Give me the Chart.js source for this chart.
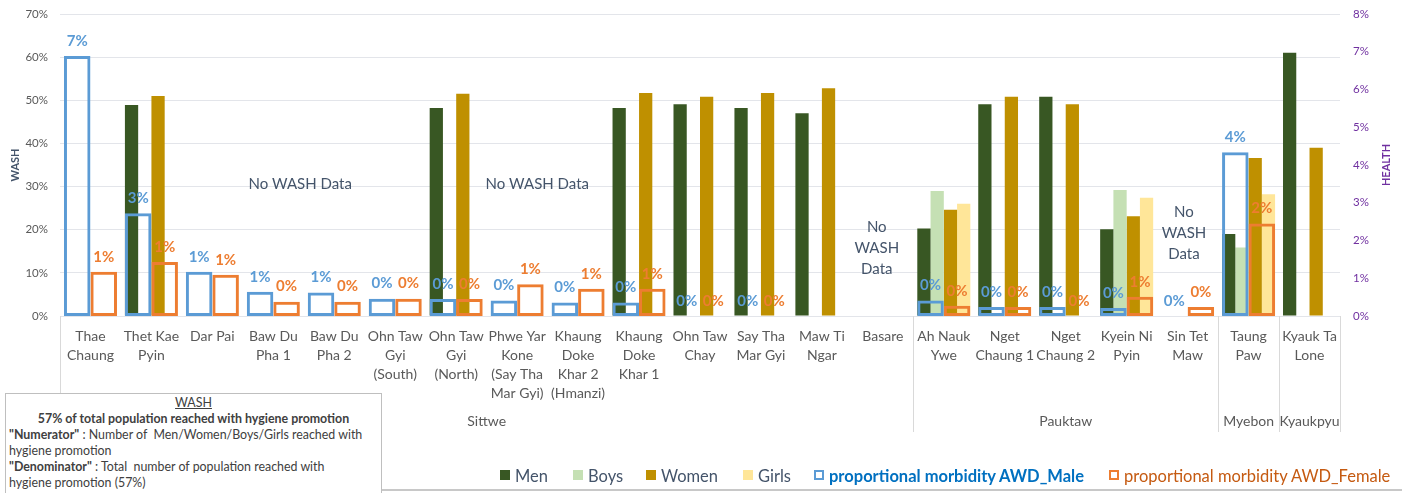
<!DOCTYPE html>
<html><head><meta charset="utf-8">
<script src="https://cdn.jsdelivr.net/npm/chart.js@4.4.0/dist/chart.umd.min.js"></script>
<style>
html,body{margin:0;padding:0;background:#fff;}
#wrap{position:relative;width:1402px;height:493px;overflow:hidden;font-family:Lato,'Open Sans',sans-serif;}
.cw{position:absolute;left:0;top:0;width:1402px;height:493px;}
#note{position:absolute;left:5px;top:393px;width:377px;height:104px;border:1px solid #BFBFBF;background:#fff;color:#404040;font-size:12.4px;line-height:16px;box-sizing:border-box;padding:1px 3px;white-space:nowrap;}
#note .c{text-align:center;}
#note .u{text-decoration:underline;}
#bline{position:absolute;left:382px;top:489px;width:1020px;height:2px;background:#C8C8C8;}
.lg{position:absolute;top:466px;font-size:16.5px;line-height:20px;white-space:nowrap;color:#44546A;}
.lg span.sw{position:absolute;top:4px;left:0;width:10px;height:10px;box-sizing:border-box;}
</style></head>
<body>
<div id="wrap">
  <div class="cw"><canvas id="cWash"></canvas></div>
  <div class="cw"><canvas id="cHealth"></canvas></div>
  <div id="note">
    <div class="c u">WASH</div>
    <div class="c"><b>57% of total population reached with hygiene promotion</b></div>
    <div><b>"Numerator"</b> : Number of&nbsp; Men/Women/Boys/Girls reached with<br>hygiene promotion</div>
    <div><b>"Denominator"</b> : Total&nbsp; number of population reached with<br>hygiene promotion (57%)</div>
  </div>
  <div id="bline"></div>
</div>
<script>
// ---------- data ----------
const categories = [
  ['Thae','Chaung'], ['Thet Kae','Pyin'], ['Dar Pai'], ['Baw Du','Pha 1'], ['Baw Du','Pha 2'],
  ['Ohn Taw','Gyi','(South)'], ['Ohn Taw','Gyi','(North)'], ['Phwe Yar','Kone','(Say Tha','Mar Gyi)'],
  ['Khaung','Doke','Khar 2','(Hmanzi)'], ['Khaung','Doke','Khar 1'], ['Ohn Taw','Chay'], ['Say Tha','Mar Gyi'],
  ['Maw Ti','Ngar'], ['Basare'], ['Ah Nauk','Ywe'], ['Nget','Chaung 1'], ['Nget','Chaung 2'],
  ['Kyein Ni','Pyin'], ['Sin Tet','Maw'], ['Taung','Paw'], ['Kyauk Ta','Lone']
];
const groups = [
  {name:'Sittwe', from:0, to:13},
  {name:'Pauktaw', from:14, to:18},
  {name:'Myebon', from:19, to:19},
  {name:'Kyaukpyu', from:20, to:20}
];
const men   = [null,48.9,null,null,null,null,48.2,null,null,48.2,49.1,48.2,47.0,null,20.3,49.1,50.8,20.1,null,19.0,61.0];
const boys  = [null,null,null,null,null,null,null,null,null,null,null,null,null,null,29.0,null,null,29.2,null,15.9,null];
const women = [null,51.0,null,null,null,null,51.5,null,null,51.7,50.8,51.7,52.8,null,24.6,50.8,49.1,23.1,null,36.6,39.0];
const girls = [null,null,null,null,null,null,null,null,null,null,null,null,null,null,26.0,null,null,27.4,null,28.2,null];
const awdMale   = [6.89,2.72,1.17,0.64,0.62,0.46,0.45,0.41,0.36,0.36,0,0,null,null,0.41,0.24,0.24,0.21,0,4.34,null];
const awdFemale = [1.17,1.43,1.09,0.38,0.38,0.46,0.45,0.84,0.72,0.72,0,0,null,null,0.27,0.24,0,0.51,0.24,2.45,null];
const washTicks = [0,10,20,30,40,50,60,70];
const healthTicks = [0,1,2,3,4,5,6,7,8];
const noDataNotes = [
  {at:3.44, value:30.6, lines:['No WASH Data']},
  {at:7.33, value:30.6, lines:['No WASH Data']},
  {at:12.9, value:15.8, lines:['No','WASH','Data']},
  {at:17.94, value:19.2, lines:['No','WASH','Data']}
];

// ---------- layout & styles ----------
const C = {men:'#385723', boys:'#C5E0B4', women:'#BF9000', girls:'#FFE699', male:'#5B9BD5', female:'#ED7D31'};
const legendLeft = [500,573,646,743,814,1109];
const FONT = 'Lato';
const AREA = {left:60, right:62, top:14, bottom:177};
const CAT_PCT = 0.87;
const zeroPad = s => { s.paddingTop = 0; s.paddingBottom = 0; s.paddingLeft = 0; s.paddingRight = 0; };

const washBar = (label, data, color) => ({
  label, data, backgroundColor:color, borderWidth:0,
  categoryPercentage:CAT_PCT, barPercentage:1.0, legendStyle:'fill', legendText:'#44546A'
});
const healthBar = (label, data, color, textColor, bold) => ({
  label, data, backgroundColor:'rgba(0,0,0,0)', borderColor:color,
  borderWidth:3, borderSkipped:false, categoryPercentage:CAT_PCT, barPercentage:1.0,
  valueColor:color, legendStyle:'outline', legendText:textColor, legendBold:bold
});

const washSets = [
  washBar('Men', men, C.men),
  washBar('Boys', boys, C.boys),
  washBar('Women', women, C.women),
  washBar('Girls', girls, C.girls)
];
const healthSets = [
  healthBar('proportional morbidity AWD_Male', awdMale, C.male, '#0070C0', true),
  healthBar('proportional morbidity AWD_Female', awdFemale, C.female, '#C55A11', false)
];

const washDecor = {
  id:'washDecor',
  afterDatasetsDraw(chart){
    const ctx = chart.ctx, xs = chart.scales.x, ys = chart.scales.y;
    ctx.save();
    ctx.font = '15px ' + FONT; ctx.fillStyle = '#44546A';
    ctx.textAlign = 'center'; ctx.textBaseline = 'middle';
    noDataNotes.forEach(n => {
      const px = xs.getPixelForValue(n.at);
      const py = ys.getPixelForValue(n.value);
      const lh = 21, k = n.lines.length;
      n.lines.forEach((t, j) => ctx.fillText(t, px, py + (j - (k-1)/2) * lh));
    });
    ctx.restore();
  },
  afterDraw(chart){
    const ctx = chart.ctx, xs = chart.scales.x, ca = chart.chartArea;
    ctx.save();
    const half = (xs.getPixelForValue(1) - xs.getPixelForValue(0)) / 2;
    ctx.strokeStyle = '#D9D9D9'; ctx.lineWidth = 1;
    const bounds = new Set();
    groups.forEach(g => { bounds.add(g.from); bounds.add(g.to + 1); });
    bounds.forEach(b => {
      const px = Math.round(xs.getPixelForValue(b) - half) + 0.5;
      ctx.beginPath(); ctx.moveTo(px, ca.bottom); ctx.lineTo(px, ca.bottom + 116); ctx.stroke();
    });
    ctx.font = '14px ' + FONT; ctx.fillStyle = '#595959';
    ctx.textAlign = 'center'; ctx.textBaseline = 'middle';
    groups.forEach(g => {
      const l = xs.getPixelForValue(g.from) - half, r = xs.getPixelForValue(g.to) + half;
      ctx.fillText(g.name, (l + r) / 2, ca.bottom + 105);
    });
    const midY = (ca.top + ca.bottom) / 2;
    ctx.font = 'bold 11px ' + FONT;
    ctx.fillStyle = '#44546A';
    ctx.translate(15, midY); ctx.rotate(-Math.PI/2); ctx.fillText('WASH', 0, 0);
    ctx.restore();
  }
};

const healthDecor = {
  id:'healthDecor',
  afterDatasetsDraw(chart){
    const ctx = chart.ctx, ca = chart.chartArea;
    ctx.save();
    chart.data.datasets.forEach((ds, di) => {
      const meta = chart.getDatasetMeta(di);
      meta.data.forEach((el, i) => {
        const v = ds.data[i];
        if(v === null || v === undefined) return;
        ctx.font = 'bold 15px ' + FONT;
        ctx.fillStyle = ds.valueColor;
        ctx.textAlign = 'center'; ctx.textBaseline = 'middle';
        ctx.fillText(Math.round(v) + '%', el.x, el.y - 15);
      });
    });
    const midY = (ca.top + ca.bottom) / 2;
    ctx.font = 'bold 11px ' + FONT;
    ctx.fillStyle = '#7030A0';
    ctx.textAlign = 'center'; ctx.textBaseline = 'middle';
    ctx.translate(1386, midY); ctx.rotate(-Math.PI/2); ctx.fillText('HEALTH', 0, 0);
    ctx.restore();
  }
};

const washChart = new Chart(document.getElementById('cWash'), {
  type:'bar',
  data:{labels:categories, datasets:washSets},
  options:{
    responsive:true, maintainAspectRatio:false, animation:false,
    layout:{padding:{top:AREA.top, left:0, right:AREA.right, bottom:0}},
    plugins:{legend:{display:false}, title:{display:false}, tooltip:{enabled:false}},
    scales:{
      x:{
        type:'category', offset:true,
        grid:{display:false}, border:{display:false},
        ticks:{autoSkip:false, maxRotation:0, minRotation:0, padding:3, color:'#595959',
               font:{family:FONT, size:14, lineHeight:1.35}},
        afterFit(s){ s.height = AREA.bottom; zeroPad(s); }
      },
      y:{
        position:'left', min:0, max:70,
        afterBuildTicks(s){ s.ticks = washTicks.map(v=>({value:v})); },
        grid:{color:'#E3E5EA', drawTicks:false}, border:{display:false},
        ticks:{padding:12, color:'#595959', font:{family:FONT, size:11.5}, callback:v=>v+'%'},
        afterFit(s){ s.width = AREA.left; zeroPad(s); }
      }
    }
  },
  plugins:[washDecor]
});

const healthChart = new Chart(document.getElementById('cHealth'), {
  type:'bar',
  data:{labels:categories, datasets:healthSets},
  options:{
    responsive:true, maintainAspectRatio:false, animation:false,
    layout:{padding:{top:AREA.top, left:AREA.left, right:0, bottom:AREA.bottom}},
    plugins:{legend:{display:false}, title:{display:false}, tooltip:{enabled:false}},
    scales:{
      x:{ type:'category', offset:true, display:false },
      y:{
        position:'right', min:0, max:8,
        afterBuildTicks(s){ s.ticks = healthTicks.map(v=>({value:v})); },
        grid:{display:false, drawTicks:false}, border:{display:false},
        ticks:{padding:13, color:'#7030A0', font:{family:FONT, size:11.5}, callback:v=>v+'%'},
        afterFit(s){ s.width = AREA.right; zeroPad(s); }
      }
    }
  },
  plugins:[healthDecor]
});

const wrap = document.getElementById('wrap');
[...washChart.data.datasets, ...healthChart.data.datasets].forEach((ds, i) => {
  const d = document.createElement('div');
  d.className = 'lg';
  d.style.left = legendLeft[i] + 'px';
  d.style.paddingLeft = '15px';
  d.style.color = ds.legendText;
  if(ds.legendBold) d.style.fontWeight = 'bold';
  const sw = document.createElement('span');
  sw.className = 'sw';
  if(ds.legendStyle === 'fill') sw.style.background = ds.backgroundColor;
  else sw.style.border = '2px solid ' + ds.borderColor;
  d.appendChild(sw);
  d.appendChild(document.createTextNode(ds.label));
  wrap.appendChild(d);
});
</script>
</body></html>
